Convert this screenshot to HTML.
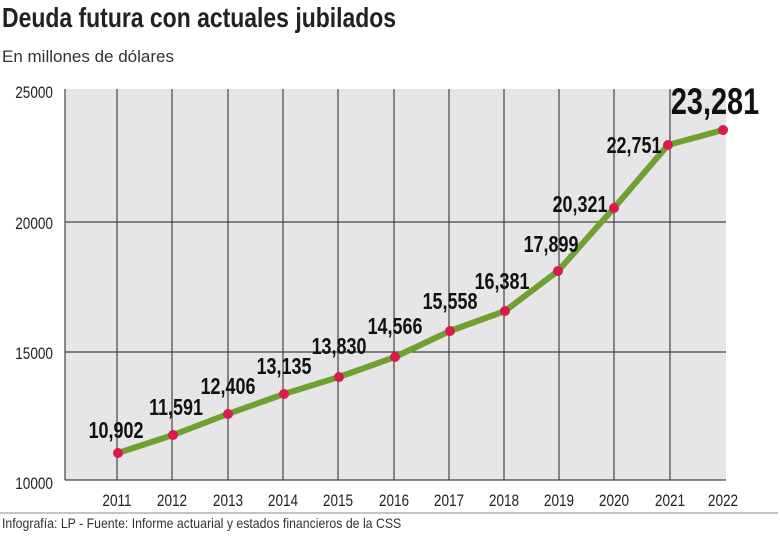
<!DOCTYPE html>
<html><head><meta charset="utf-8"><style>
body{margin:0;width:780px;height:533px;background:#fff;overflow:hidden;font-family:"Liberation Sans",sans-serif}
</style></head><body>
<svg width="780" height="533" xmlns="http://www.w3.org/2000/svg" font-family="Liberation Sans, sans-serif">
<text transform="translate(2,27) scale(0.82,1)" font-size="28" font-weight="bold" fill="#222">Deuda futura con actuales jubilados</text>
<text x="2" y="62" font-size="17" fill="#333">En millones de dólares</text>
<rect x="65" y="89" width="661" height="391" fill="#e6e6e8"/>
<g stroke="#444" stroke-width="1.2">
<line x1="65" y1="89" x2="65" y2="480"/>
<line x1="65" y1="480" x2="726" y2="480"/>
<line x1="65" y1="222" x2="726" y2="222"/>
<line x1="65" y1="352" x2="726" y2="352"/>
<line x1="117" y1="89" x2="117" y2="480"/><line x1="172" y1="89" x2="172" y2="480"/>
<line x1="228" y1="89" x2="228" y2="480"/><line x1="283" y1="89" x2="283" y2="480"/>
<line x1="338" y1="89" x2="338" y2="480"/><line x1="394" y1="89" x2="394" y2="480"/>
<line x1="449" y1="89" x2="449" y2="480"/><line x1="504" y1="89" x2="504" y2="480"/>
<line x1="559" y1="89" x2="559" y2="480"/><line x1="614" y1="89" x2="614" y2="480"/>
<line x1="670" y1="89" x2="670" y2="480"/>
</g>
<g font-size="17" fill="#222" text-anchor="end">
<text transform="translate(53,98) scale(0.8,1)">25000</text><text transform="translate(53,229) scale(0.8,1)">20000</text>
<text transform="translate(53,359) scale(0.8,1)">15000</text><text transform="translate(53,489) scale(0.8,1)">10000</text>
</g>
<g font-size="17" fill="#222" text-anchor="middle">
<text transform="translate(117,506) scale(0.8,1)">2011</text><text transform="translate(172,506) scale(0.8,1)">2012</text>
<text transform="translate(228,506) scale(0.8,1)">2013</text><text transform="translate(283,506) scale(0.8,1)">2014</text>
<text transform="translate(338,506) scale(0.8,1)">2015</text><text transform="translate(394,506) scale(0.8,1)">2016</text>
<text transform="translate(449,506) scale(0.8,1)">2017</text><text transform="translate(504,506) scale(0.8,1)">2018</text>
<text transform="translate(559,506) scale(0.8,1)">2019</text><text transform="translate(614,506) scale(0.8,1)">2020</text>
<text transform="translate(670,506) scale(0.8,1)">2021</text><text transform="translate(723,506) scale(0.8,1)">2022</text>
</g>
<polyline fill="none" stroke="#6fa030" stroke-width="6" stroke-linejoin="round" points="118,453 173,435 228,414 284,394 339,377 395,357 450,331 505,311 558,271 614,208 668,145 723,130"/>
<g fill="#d81b4a">
<circle cx="118" cy="453" r="5"/><circle cx="173" cy="435" r="5"/><circle cx="228" cy="414" r="5"/><circle cx="284" cy="394" r="5"/>
<circle cx="339" cy="377" r="5"/><circle cx="395" cy="357" r="5"/><circle cx="450" cy="331" r="5"/><circle cx="505" cy="311" r="5"/>
<circle cx="558" cy="271" r="5"/><circle cx="614" cy="208" r="5"/><circle cx="668" cy="145" r="5"/><circle cx="723" cy="130" r="5"/>
</g>
<g font-size="23" font-weight="bold" fill="#111" text-anchor="middle">
<text transform="translate(116,438) scale(0.78,1)">10,902</text><text transform="translate(176,415) scale(0.78,1)">11,591</text>
<text transform="translate(228,394) scale(0.78,1)">12,406</text><text transform="translate(284,374) scale(0.78,1)">13,135</text>
<text transform="translate(339,354) scale(0.78,1)">13,830</text><text transform="translate(395,334) scale(0.78,1)">14,566</text>
<text transform="translate(450,309) scale(0.78,1)">15,558</text><text transform="translate(502,289) scale(0.78,1)">16,381</text>
<text transform="translate(551,252) scale(0.78,1)">17,899</text><text transform="translate(580,212) scale(0.78,1)">20,321</text>
<text transform="translate(634,153) scale(0.78,1)">22,751</text>
<text transform="translate(715,114) scale(0.78,1)" font-size="37">23,281</text>
</g>
<line x1="0" y1="513" x2="778" y2="513" stroke="#888" stroke-width="1"/>
<text transform="translate(2,528) scale(0.88,1)" font-size="14" fill="#333">Infografía: LP - Fuente:  Informe actuarial y estados financieros de la CSS</text>
</svg>
</body></html>
